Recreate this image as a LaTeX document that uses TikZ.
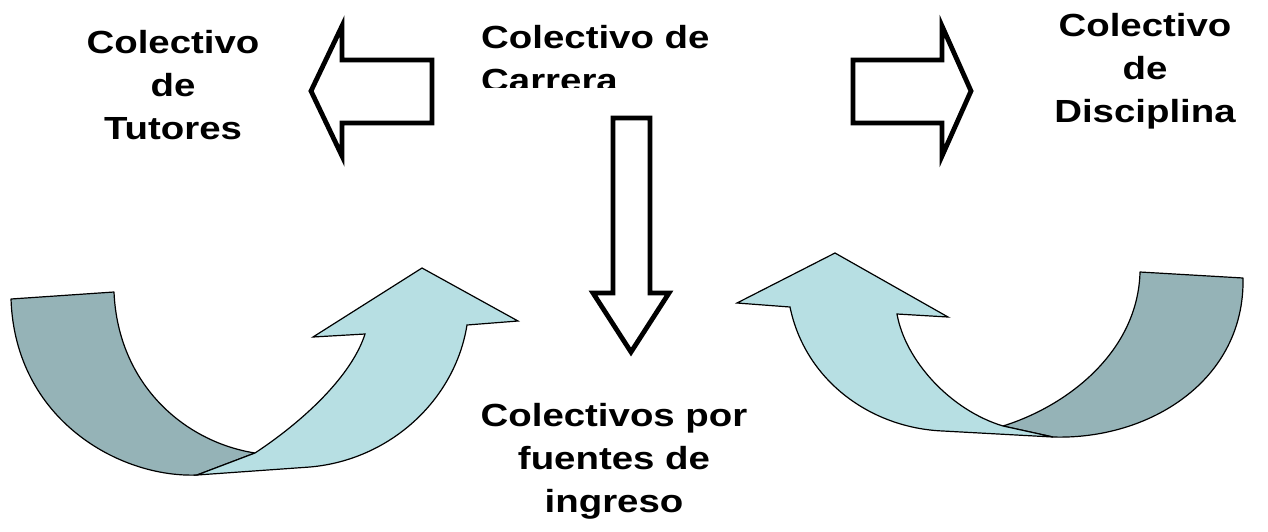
\documentclass[tikz,border=0pt]{standalone}
\usepackage{fontspec}
\newfontfamily\lblfont{Liberation Sans}[FakeStretch=1.2]
\usetikzlibrary{positioning}
\definecolor{ribfront}{RGB}{183,223,227}
\definecolor{ribback}{RGB}{149,179,183}
\tikzset{
    blockarrow/.style={draw=black,line width=4.8pt,fill=white,line join=miter},
    ribback/.style={draw=black,line width=1.2pt,fill=ribback,line join=round},
    ribfront/.style={draw=black,line width=1.2pt,fill=ribfront,line join=miter},
    lbl/.style={font=\lblfont\bfseries\fontsize{32}{43}\selectfont,align=center,inner sep=0pt}
}
\begin{document}
\begin{tikzpicture}[x=1pt,y=-1pt]
            \useasboundingbox (0,0) rectangle (1268,531);
            % hollow arrows round the career group
            \draw[blockarrow] (432,60) -- (342,60) -- (342,26) -- (311,91) -- (342,156) -- (342,123) -- (432,123) -- cycle;
            \draw[blockarrow] (853,60) -- (942,60) -- (942,26) -- (971,91) -- (942,156) -- (942,123) -- (853,123) -- cycle;
            \draw[blockarrow] (613,118) -- (650,118) -- (650,293) -- (669,293) -- (631,352) -- (593,293) -- (613,293) -- cycle;
            % left ribbon arrow
            \filldraw[ribback] (11,299) -- (114,292)
                .. controls (118,385) and (185,442) .. (255,453)
                -- (197,475)
                .. controls (120,478) and (15,420) .. (11,299) -- cycle;
            \filldraw[ribfront] (197,475) -- (255,453)
                .. controls (305,420) and (352,375) .. (365,334)
                -- (313,337) -- (422,268) -- (518,321) -- (467,325)
                .. controls (455,400) and (390,460) .. (310,467) -- cycle;
            % right ribbon arrow
            \filldraw[ribback] (1243,278) -- (1140,272)
                .. controls (1138,350) and (1070,405) .. (1003,426)
                -- (1053,437)
                .. controls (1150,440) and (1245,380) .. (1243,278) -- cycle;
            \filldraw[ribfront] (1053,437) -- (1003,426)
                .. controls (950,410) and (905,360) .. (897,314)
                -- (948,317) -- (835,253) -- (737,303) -- (790,307)
                .. controls (805,380) and (870,428) .. (943,431) -- cycle;
            % labels
            \node[lbl,anchor=north] (tutores) at (173,30) {Colectivo\\de\\Tutores};
            \node[lbl,anchor=north] (disciplina) at (1145,13) {Colectivo\\de\\Disciplina};
            \node[lbl,anchor=north] (fuentes) at (614,403) {Colectivos por\\fuentes de\\ingreso};
            \begin{scope}
                \clip (470,0) rectangle (720,87);
                \node[lbl,align=left,anchor=north west] (carrera) at (481,25) {Colectivo de\\Carrera};
            \end{scope}
\end{tikzpicture}
\end{document}
